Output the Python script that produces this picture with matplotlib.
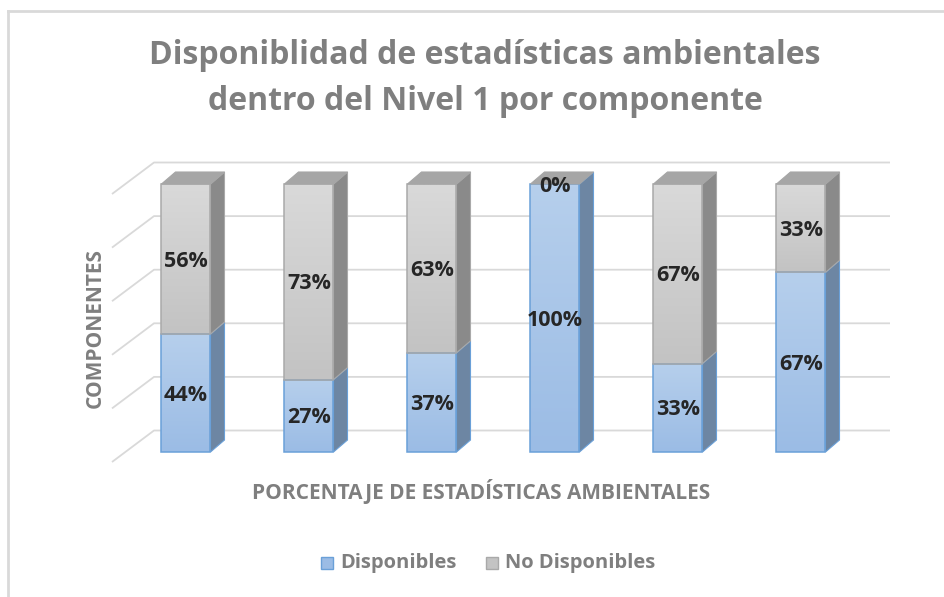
import matplotlib
matplotlib.use('Agg')
import matplotlib.pyplot as plt
import numpy as np
from matplotlib.patches import Polygon, Rectangle
from matplotlib.colors import LinearSegmentedColormap
from matplotlib.lines import Line2D

# ---- data ----
categories = ['1', '2', '3', '4', '5', '6']
disponibles = [44, 27, 37, 100, 33, 67]
no_disponibles = [56, 73, 63, 0, 67, 33]
grid_ticks = [0, 20, 40, 60, 80, 100]
series_names = ['Disponibles', 'No Disponibles']
title = 'Disponiblidad de estadísticas ambientales\ndentro del Nivel 1 por componente'
xlabel = 'PORCENTAJE DE ESTADÍSTICAS AMBIENTALES'
ylabel = 'COMPONENTES'

FONT = ['Open Sans', 'DejaVu Sans']
plt.rcParams['font.family'] = FONT

W, H = 945, 597
fig = plt.figure(figsize=(W / 100, H / 100), dpi=100)
ax = fig.add_axes([0, 0, 1, 1])
PXU = 123.0      # pixels per category unit
X0 = 186.0       # pixel x of first category
Y0 = 452.0       # pixel y of 0 %
PXP = 2.68       # pixels per percent
ax.set_xlim(-X0 / PXU, (W - X0) / PXU)
ax.set_ylim((Y0 - H) / PXP, Y0 / PXP)
ax.axis('off')

hw = 24.5 / PXU
ddx = 14 / PXU
ddy = 12 / PXP

# walls / gridlines
wx_front = (112 - X0) / PXU
wx_back = (154 - X0) / PXU
wp_front = -10 / PXP
wp_back = 21.5 / PXP
wx_right = (890 - X0) / PXU
gcol = '#d9d9d9'
for v in grid_ticks:
    ax.plot([wx_front, wx_back, wx_right], [v + wp_front, v + wp_back, v + wp_back],
            color=gcol, lw=1.3, zorder=1, solid_capstyle='butt')

styles = [
    dict(top='#b6cfec', bot='#9bbce5', side='#6d86a3', topface='#8aa9cf', edge='#6aa0d8'),
    dict(top='#d9d9d9', bot='#c3c3c3', side='#8a8a8a', topface='#a6a6a6', edge='#a9a9a9'),
]


def grad_rect(x0, x1, y0, y1, ctop, cbot, z):
    cmap = LinearSegmentedColormap.from_list('g', [cbot, ctop])
    g = np.linspace(0, 1, 64).reshape(-1, 1)
    ax.imshow(g, cmap=cmap, extent=[x0, x1, y0, y1], origin='lower',
              aspect='auto', zorder=z, interpolation='bilinear')


series = [disponibles, no_disponibles]
for i, cat in enumerate(categories):
    xc = i
    base = 0
    for s, vals in enumerate(series):
        v = vals[i]
        st = styles[s]
        b, t = base, base + v
        if v > 0:
            grad_rect(xc - hw, xc + hw, b, t, st['top'], st['bot'], 2)
            ax.add_patch(Rectangle((xc - hw, b), 2 * hw, v, fill=False,
                                   edgecolor=st['edge'], lw=1.1, zorder=3))
            side = Polygon([(xc + hw, b), (xc + hw + ddx, b + ddy),
                            (xc + hw + ddx, t + ddy), (xc + hw, t)],
                           closed=True, facecolor=st['side'],
                           edgecolor=st['edge'], lw=0.8, zorder=2)
            ax.add_patch(side)
        if s == len(series) - 1:
            topf = Polygon([(xc - hw, t), (xc + hw, t), (xc + hw + ddx, t + ddy),
                            (xc - hw + ddx, t + ddy)], closed=True,
                           facecolor=st['topface'], edgecolor=st['topface'], lw=0.8, zorder=4)
            ax.add_patch(topf)
        ax.text(xc, (b + t) / 2 - 0.8, f'{v}%', ha='center', va='center',
                fontsize=15.5, fontweight='bold', color='#262626', zorder=6)
        base = t

# titles / labels
fig.text(485 / W, 1 - 78.5 / H, title, ha='center', va='center', fontsize=23,
         fontweight='bold', color='#7f7f7f', linespacing=1.5)
fig.text(481 / W, 1 - 492 / H, xlabel, ha='center', va='center', fontsize=15,
         fontweight='bold', color='#7f7f7f')
fig.text(95 / W, 1 - 328 / H, ylabel, ha='center', va='center', fontsize=15,
         fontweight='bold', color='#7f7f7f', rotation=90)

# legend (manual)
leg_x = [321, 486]
for k, name in enumerate(series_names):
    st = styles[k]
    fig.patches.append(Rectangle((leg_x[k] / W, 1 - 569 / H), 12 / W, 12 / H,
                                 transform=fig.transFigure, facecolor=st['bot'],
                                 edgecolor=st['edge'], lw=1))
    fig.text((leg_x[k] + 19) / W, 1 - 563 / H, name, ha='left', va='center',
             fontsize=14.5, fontweight='bold', color='#7f7f7f')

# border
fig.add_artist(Line2D([8.5 / W, 8.5 / W], [0, 1 - 11 / H], transform=fig.transFigure,
                      color='#d9d9d9', lw=2))
fig.add_artist(Line2D([8.5 / W, 1], [1 - 11 / H, 1 - 11 / H], transform=fig.transFigure,
                      color='#d9d9d9', lw=2))

fig.savefig('out.png', dpi=100)
